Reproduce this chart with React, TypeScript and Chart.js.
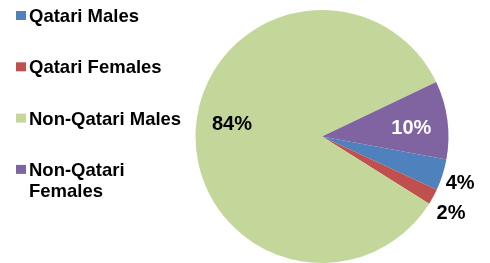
import React, { useEffect, useRef } from "react";
import { Chart, registerables } from "chart.js";

Chart.register(...registerables);

const categories = ["Qatari Males", "Qatari Females", "Non-Qatari Males", "Non-Qatari Females"];
const shares = [4, 2, 84, 10];
const percentLabels = ["4%", "2%", "84%", "10%"];
const sliceColors = ["#4F81BD", "#C0504D", "#C4D79B", "#8064A2"];
const labelColors = ["#000000", "#000000", "#000000", "#FFFFFF"];
// label placement: radius factor and angle offset (degrees)
const labelPlacement = [
  { r: 1.15, da: 0.6 },
  { r: 1.18, da: 1.7 },
  { r: 0.72, da: 5.5 },
  { r: 0.71, da: 1.2 },
];

const FONT = '"Liberation Sans", Arial, sans-serif';

const customPlugin = {
  id: "customDraw",
  afterDatasetsDraw(chart: any) {
    const ctx = chart.ctx;
    const meta = chart.getDatasetMeta(0);
    ctx.save();
    // percentage labels
    ctx.font = `bold 20px ${FONT}`;
    ctx.textAlign = "center";
    ctx.textBaseline = "alphabetic";
    meta.data.forEach((arc: any, i: number) => {
      const p = labelPlacement[i];
      const mid = (arc.startAngle + arc.endAngle) / 2 + (p.da * Math.PI) / 180;
      const rr = arc.outerRadius * p.r;
      const x = arc.x + Math.cos(mid) * rr;
      const y = arc.y + Math.sin(mid) * rr;
      ctx.fillStyle = labelColors[i];
      ctx.fillText(percentLabels[i], x, y + 7.2);
    });
    // legend
    ctx.font = `bold 18.5px ${FONT}`;
    ctx.textAlign = "left";
    const maxW = 160;
    let baseline = 22;
    categories.forEach((cat, i) => {
      ctx.fillStyle = sliceColors[i];
      ctx.fillRect(16, baseline - 11, 10, 9);
      ctx.fillStyle = "#000000";
      const words = cat.split(" ");
      const lines: string[] = [];
      let cur = "";
      words.forEach((w) => {
        const t = cur ? cur + " " + w : w;
        if (ctx.measureText(t).width > maxW && cur) {
          lines.push(cur);
          cur = w;
        } else cur = t;
      });
      if (cur) lines.push(cur);
      lines.forEach((ln, j) => ctx.fillText(ln, 29, baseline + j * 21));
      baseline += 51.3;
    });
    ctx.restore();
  },
};

export default function App() {
  const ref = useRef<HTMLCanvasElement>(null);
  useEffect(() => {
    document.body.style.margin = "0";
    const chart = new Chart(ref.current!, {
      type: "pie",
      data: {
        labels: categories,
        datasets: [
          {
            data: shares,
            backgroundColor: sliceColors,
            borderWidth: 0,
          },
        ],
      },
      options: {
        responsive: false,
        animation: false,
        rotation: 100.5,
        layout: { padding: { left: 195, right: 41, top: 10, bottom: 0 } },
        plugins: { legend: { display: false }, tooltip: { enabled: false } },
      },
      plugins: [customPlugin],
    });
    return () => chart.destroy();
  }, []);
  return (
    <div style={{ width: 490, height: 263, background: "#fff" }}>
      <canvas ref={ref} width={490} height={263} />
    </div>
  );
}
